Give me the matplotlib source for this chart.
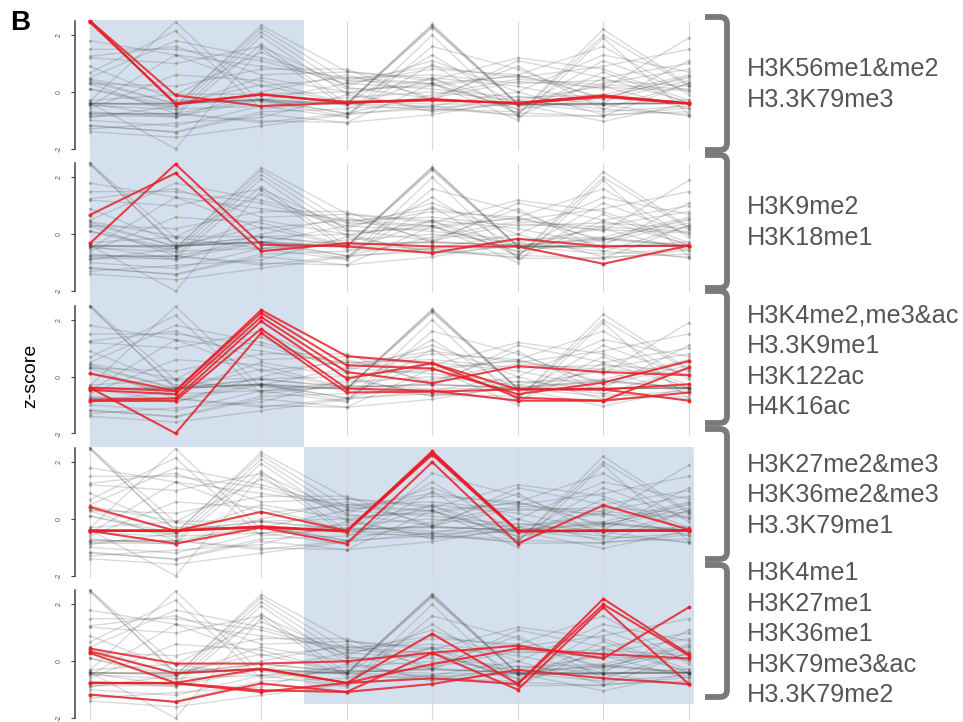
import matplotlib.pyplot as plt
from matplotlib.patches import Rectangle, PathPatch
from matplotlib.path import Path

plt.rcParams['font.family'] = ['Liberation Sans', 'DejaVu Sans']

# 8 conditions on the x axis, z-scores per histone mark
positions = list(range(8))

# cluster members (drawn red in their own panel, gray elsewhere)
cluster1 = [
    [2.5, -0.12, -0.5, -0.38, -0.3, -0.38, -0.12, -0.4],
    [2.5, -0.44, -0.08, -0.4, -0.25, -0.42, -0.18, -0.42],
    [2.45, -0.4, -0.1, -0.35, -0.28, -0.4, -0.15, -0.4],
]
cluster2 = [
    [0.68, 2.15, -0.6, -0.31, -0.43, -0.43, -1.04, -0.4],
    [-0.32, 2.47, -0.37, -0.43, -0.66, -0.16, -0.43, -0.4],
]
cluster3 = [
    [-0.39, -0.5, 2.34, 0.72, 0.47, -0.45, -0.45, -0.27],
    [0.11, -0.5, 2.24, 0.4, 0.28, -0.62, -0.21, 0.55],
    [-0.47, -0.62, 2.1, 0.16, -0.23, 0.37, 0.16, 0.05],
    [-0.82, -0.77, 1.95, -0.07, 0.47, -0.74, -0.85, 0.32],
    [-0.86, -0.85, 1.68, -0.42, -0.5, -0.85, -0.85, -0.56],
    [-0.39, -2.0, 1.54, -0.56, -0.53, -0.45, -0.45, -0.85],
]
cluster4 = [
    [0.42, -0.42, 0.25, -0.42, 2.38, -0.42, -0.42, -0.4],
    [-0.42, -0.87, -0.3, -0.87, 2.0, -0.87, 0.48, -0.37],
    [-0.42, -0.42, -0.26, -0.42, 2.3, -0.42, -0.42, -0.4],
    [-0.42, -0.42, -0.3, -0.42, 2.34, -0.42, -0.42, -0.42],
    [-0.4, -0.4, -0.28, -0.45, 2.26, -0.45, -0.4, -0.4],
]
cluster5 = [
    [0.45, -0.08, -0.08, 0.0, 0.3, 0.55, 0.1, 1.9],
    [0.35, -0.43, -0.26, -0.76, 0.97, -0.8, 2.2, 0.25],
    [0.29, -0.76, -1.02, -1.08, 0.3, -1.0, 1.9, -0.8],
    [-0.76, -0.76, -0.26, -0.76, -0.1, 0.45, 0.25, 0.1],
    [-0.76, -0.78, -1.08, -0.76, -0.6, -0.8, 2.0, 0.2],
    [-1.17, -1.43, -0.78, -1.08, -0.8, -0.3, -0.6, -0.8],
]

# marks that are not part of any highlighted cluster
other_marks = [
    [1.8, 1.3, 0.9, 0.5, 0.6, 0.3, 0.4, 0.2],
    [1.5, 1.5, 1.1, 0.3, 0.8, 0.6, -0.2, 0.5],
    [1.25, 1.6, 0.6, 0.7, 0.4, 1.2, 0.8, -0.3],
    [1.2, 1.0, 1.6, 0.2, 1.1, 0.0, 1.3, 0.7],
    [0.5, 1.8, 1.2, 0.4, 0.9, 0.5, 0.9, 1.5],
    [0.3, 0.2, 0.8, 0.8, -0.3, 1.1, 0.5, 1.0],
    [-0.3, -0.1, 1.4, 0.1, 0.2, 0.6, 1.6, -0.1],
    [-0.6, 0.6, 0.4, -0.4, 1.3, -0.5, 0.3, 0.8],
    [-0.7, -0.9, 0.0, 0.6, -0.2, 0.9, -0.6, 0.3],
    [-1.0, -1.2, -0.5, -0.2, 0.0, -0.3, 0.2, -0.6],
    [-1.2, -1.4, -0.7, -0.6, 0.5, 0.2, -0.4, 1.1],
    [-1.3, -1.1, -0.9, -0.1, -0.6, -0.7, 0.7, -0.4],
    [-1.4, -1.6, -1.2, -0.8, -0.5, 0.0, -0.8, -0.7],
    [0.9, -0.3, -0.3, 0.3, 0.1, -0.2, -0.1, 0.6],
    [-0.5, 1.3, 0.2, 0.5, 0.3, -0.6, 1.1, 0.0],
    [0.1, -0.6, -0.5, -0.9, 1.6, 0.8, -0.3, 0.4],
    [-0.9, -0.5, 0.5, 0.0, -0.7, -0.4, -0.7, -0.5],
]

cluster1_labels = ['H3K56me1&me2', 'H3.3K79me3']
cluster2_labels = ['H3K9me2', 'H3K18me1']
cluster3_labels = ['H3K4me2,me3&ac', 'H3.3K9me1', 'H3K122ac', 'H4K16ac']
cluster4_labels = ['H3K27me2&me3', 'H3K36me2&me3', 'H3.3K79me1']
cluster5_labels = ['H3K4me1', 'H3K27me1', 'H3K36me1', 'H3K79me3&ac', 'H3.3K79me2']

clusters = [cluster1, cluster2, cluster3, cluster4, cluster5]
labels = [cluster1_labels, cluster2_labels, cluster3_labels, cluster4_labels, cluster5_labels]
all_marks = cluster1 + cluster2 + cluster3 + cluster4 + cluster5 + other_marks

W, H = 963, 722
fig = plt.figure(figsize=(W / 100, H / 100), dpi=100)

# layout in pixels
top0 = 20
panel_h = 142.35
ax_left, ax_right = 75, 694
xlim = (-0.175, 7.06)
ylim = (-2.48, 2.53)
shade = '#d4e0ed'

# shaded region per panel: (x start, x end, y bottom)
shade_spans = [(0, 2.5, ylim[0]), (0, 2.5, ylim[0]), (0, 2.5, ylim[0]),
               (2.5, xlim[1], ylim[0]), (2.5, xlim[1], -1.5)]

for i, (members, span) in enumerate(zip(clusters, shade_spans)):
    top = top0 + i * panel_h
    ax = fig.add_axes([ax_left / W, 1 - (top + panel_h) / H,
                       (ax_right - ax_left) / W, panel_h / H])
    ax.set_xlim(*xlim)
    ax.set_ylim(*ylim)

    x0, x1, yb = span
    ax.add_patch(Rectangle((x0, yb), x1 - x0, ylim[1] - yb,
                           facecolor=shade, edgecolor='none', zorder=0))
    ax.vlines(positions, -2.05, 2.5, color='#d8d8d8', lw=0.8, zorder=1)

    for row in all_marks:
        ax.plot(positions, row, color='#4a4a4a', alpha=0.2, lw=1.0,
                marker='o', ms=1.6, zorder=2)
    for row in members:
        ax.plot(positions, row, color='#ee1c25', alpha=0.8, lw=1.5,
                marker='o', ms=1.8, zorder=3)

    for side in ['top', 'right', 'bottom']:
        ax.spines[side].set_visible(False)
    ax.spines['left'].set_bounds(-2, 2.5)
    ax.spines['left'].set_color('#444444')
    ax.spines['left'].set_linewidth(1.1)
    ax.set_xticks([])
    ax.set_yticks([-2, 0, 2])
    ax.set_yticklabels(['-2', '0', '2'], rotation=90, va='center',
                       fontsize=5, color='#555555')
    ax.tick_params(axis='y', length=3, width=0.8, color='#444444', pad=6)
    ax.set_facecolor('none')

# overlay in pixel coordinates for brackets and labels
ov = fig.add_axes([0, 0, 1, 1])
ov.set_xlim(0, W)
ov.set_ylim(H, 0)
ov.axis('off')
ov.patch.set_alpha(0)

brackets = [(17, 150), (155, 288), (291, 423), (429, 559), (565, 697)]
baselines = [76.5, 214, 322.5, 471.5, 580]
line_gap = 30.6

for (b_top, b_bot), names, base in zip(brackets, labels, baselines):
    xs, xv, r = 705, 727, 7
    verts = [(xs, b_top), (xv - r, b_top), (xv, b_top), (xv, b_top + r),
             (xv, b_bot - r), (xv, b_bot), (xv - r, b_bot), (xs, b_bot)]
    codes = [Path.MOVETO, Path.LINETO, Path.CURVE3, Path.CURVE3,
             Path.LINETO, Path.CURVE3, Path.CURVE3, Path.LINETO]
    ov.add_patch(PathPatch(Path(verts, codes), facecolor='none',
                           edgecolor='#7a7a7a', lw=4.2, capstyle='butt'))
    for k, name in enumerate(names):
        ov.text(747, base + k * line_gap, name, fontsize=18.2,
                color='#555555', ha='left', va='baseline')

ov.text(10, 10, 'B', fontsize=20, fontweight='bold', ha='left', va='top')
ov.text(31, 376, 'z-score', fontsize=14, rotation=90, ha='center', va='center')

fig.savefig('out.png', dpi=100)
